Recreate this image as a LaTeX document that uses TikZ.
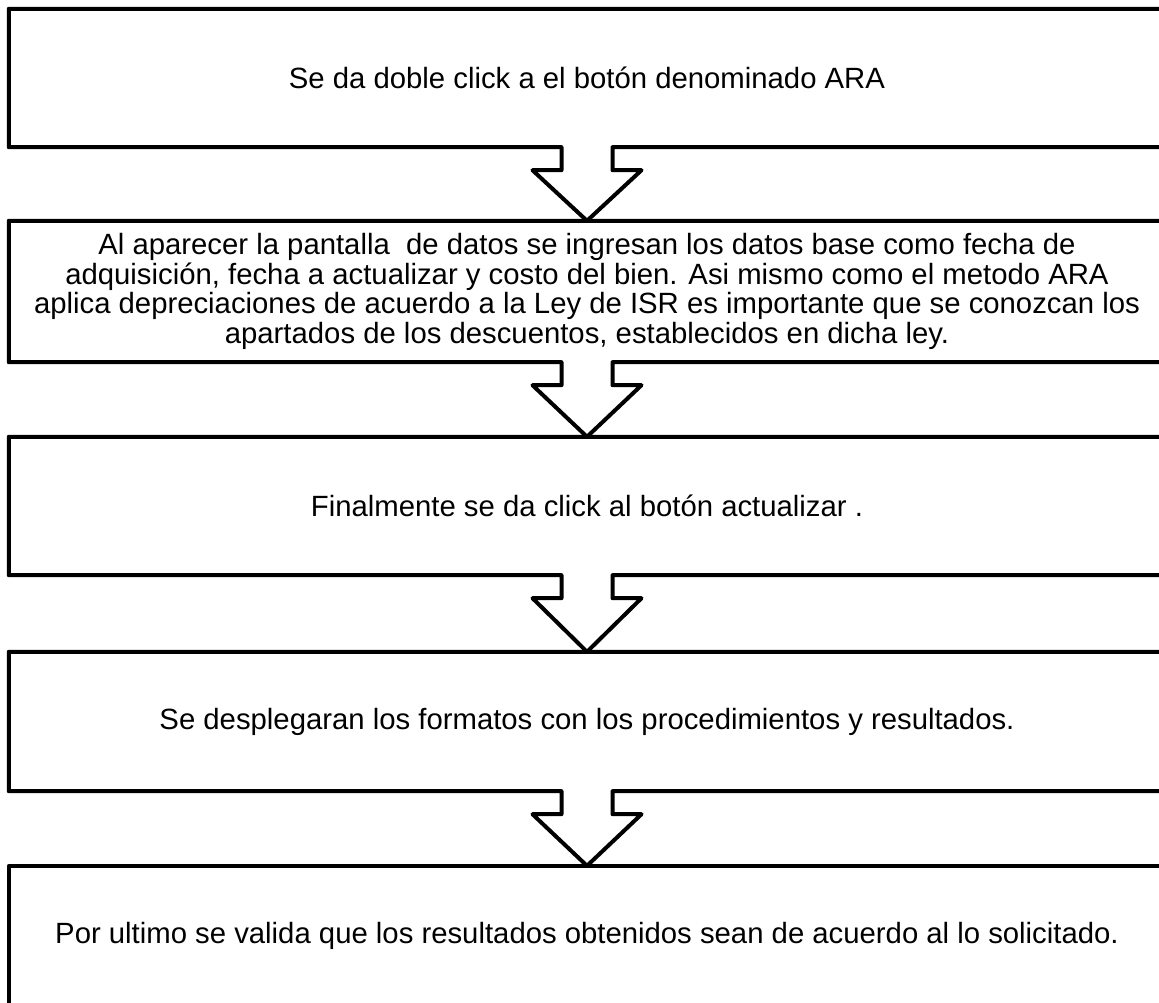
\documentclass[tikz,border=0pt]{standalone}
\usepackage{fontspec}
\setmainfont{Liberation Sans}
\usetikzlibrary{calc}
\begin{document}
\begin{tikzpicture}[x=1pt,y=-1pt,
  stepbox/.style={rectangle,inner sep=0pt,minimum width=1156pt,minimum height=138pt,
    align=center,font=\fontsize{29.3}{29.7}\selectfont},
  outline/.style={line width=4pt,line join=round,line cap=round}]
\useasboundingbox (0,0) rectangle (1159,1002);
\node[stepbox] (b1) at (587,78) {Se da doble click a el botón denominado ARA};
\node[stepbox,minimum height=141pt] (b2) at (587,291.5) {Al aparecer la pantalla\ \ de datos se ingresan los datos base como fecha de\\ adquisición, fecha a actualizar y costo del bien. Asi mismo como el metodo ARA\\ aplica depreciaciones de acuerdo a la Ley de ISR es importante que se conozcan los\\ apartados de los descuentos, establecidos en dicha ley.};
\node[stepbox] (b3) at (587,506) {Finalmente se da click al botón actualizar .};
\node[stepbox,minimum height=139pt] (b4) at (587,721.5) {Se desplegaran los formatos con los procedimientos y resultados.};
\node[stepbox,minimum height=139pt] (b5) at (587,935.5) {Por ultimo se valida que los resultados obtenidos sean de acuerdo al lo solicitado.};
% boxes with arrow connectors
\foreach \a/\b in {b1/b2,b2/b3,b3/b4,b4/b5}{
  \draw[outline] (\a.north east) -- (\a.north west) -- (\a.south west)
    -- ($(\a.south)+(-25.5,0)$) -- ($(\a.south)+(-25.5,23)$) -- ($(\a.south)+(-54.5,23)$)
    -- (\b.north)
    -- ($(\a.south)+(54.5,23)$) -- ($(\a.south)+(25.5,23)$) -- ($(\a.south)+(25.5,0)$)
    -- (\a.south east);
}
\draw[outline] (b5.north east) -- (b5.north west) -- (b5.south west) -- (b5.south east);
\end{tikzpicture}
\end{document}
